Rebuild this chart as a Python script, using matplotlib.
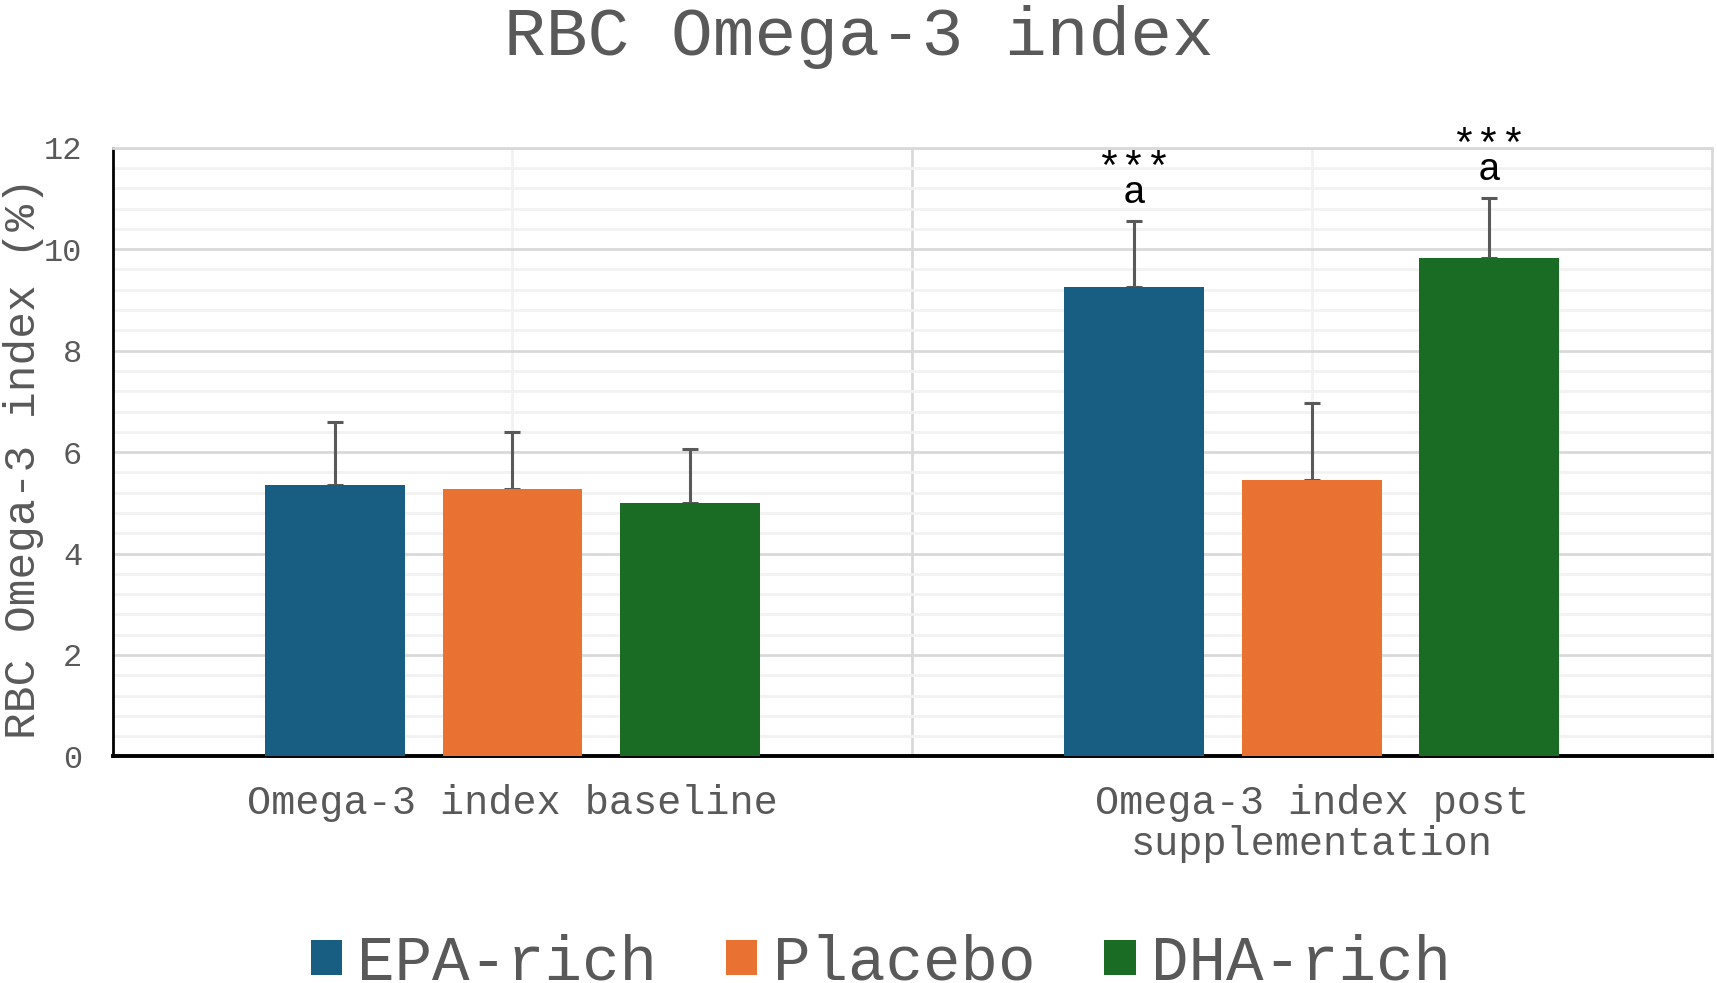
import numpy as np
import matplotlib
matplotlib.use("Agg")
import matplotlib.pyplot as plt
from matplotlib.patches import Patch
from matplotlib.ticker import MultipleLocator, FixedLocator

# Data
timepoints = ["Omega-3 index baseline", "Omega-3 index post\nsupplementation"]
groups = ["EPA-rich", "Placebo", "DHA-rich"]
means = {
    "EPA-rich": [5.35, 9.26],
    "Placebo": [5.27, 5.44],
    "DHA-rich": [4.99, 9.82],
}
sd = {
    "EPA-rich": [1.25, 1.29],
    "Placebo": [1.12, 1.53],
    "DHA-rich": [1.08, 1.18],
}
# significance marks shown above the post-supplementation bars
marks = {
    "EPA-rich": [None, ("***", "a")],
    "Placebo": [None, None],
    "DHA-rich": [None, ("***", "a")],
}

colors = {"EPA-rich": "#175E82", "Placebo": "#E97132", "DHA-rich": "#1A6B24"}
GREY = "#595959"
FONT = ["Liberation Mono", "DejaVu Sans Mono"]

plt.rcParams["font.family"] = FONT

fig = plt.figure(figsize=(17.17, 9.83), dpi=100)
ax = fig.add_axes([0.0657, 0.2305, 0.9311, 0.6192])

x = np.arange(len(timepoints))
width = 0.175
offsets = [-0.222, 0.0, 0.222]

for g, off in zip(groups, offsets):
    vals = np.array(means[g])
    err = np.array(sd[g])
    ax.bar(x + off, vals, width, color=colors[g], zorder=3)
    # one-sided (upper) error bars, drawn just under the bars
    ax.errorbar(x + off, vals, yerr=[np.zeros_like(err), err], fmt="none",
                ecolor=GREY, elinewidth=2.2, capsize=6, capthick=2.2, zorder=2.9)
    for i, m in enumerate(marks[g]):
        if m is None:
            continue
        top = vals[i] + err[i]
        ax.text(x[i] + off, top + 0.8, m[0], ha="center", va="baseline",
                fontsize=30, color="black", zorder=5)
        ax.text(x[i] + off, top + 0.36, m[1], ha="center", va="baseline",
                fontsize=28, color="black", zorder=5)

ax.set_xlim(-0.5, 1.5)
ax.set_ylim(0, 12)
ax.yaxis.set_major_locator(MultipleLocator(2))
ax.yaxis.set_minor_locator(MultipleLocator(0.4))
ax.set_xticks(x)
ax.set_xticklabels(timepoints, fontsize=29, color=GREY, linespacing=1.1)
ax.xaxis.set_minor_locator(FixedLocator([0.5]))
ax.tick_params(axis="both", which="both", length=0)
ax.tick_params(axis="y", labelsize=23, labelcolor=GREY, pad=22)
ax.tick_params(axis="x", pad=20)

ax.set_axisbelow(True)
ax.yaxis.grid(True, which="major", color="#d9d9d9", linewidth=2)
ax.yaxis.grid(True, which="minor", color="#f2f2f2", linewidth=2)
ax.xaxis.grid(True, which="major", color="#f2f2f2", linewidth=2)
ax.xaxis.grid(True, which="minor", color="#d9d9d9", linewidth=2)

ax.spines["left"].set_color("black")
ax.spines["left"].set_linewidth(2)
ax.spines["bottom"].set_color("black")
ax.spines["bottom"].set_linewidth(2.8)
ax.spines["top"].set_color("#d9d9d9")
ax.spines["top"].set_linewidth(2)
ax.spines["right"].set_color("#d9d9d9")
ax.spines["right"].set_linewidth(2)

ax.set_ylabel("RBC Omega-3 index (%)", fontsize=32, color=GREY)
ax.yaxis.set_label_coords(-0.043, 0.49)

fig.suptitle("RBC Omega-3 index", fontsize=50, color=GREY, y=0.995, va="top")

handles = [Patch(facecolor=colors[g], edgecolor="none") for g in groups]
leg = fig.legend(handles, groups, loc="center", bbox_to_anchor=(0.513, 0.02),
                 ncol=3, frameon=False, fontsize=45, handlelength=0.5,
                 handleheight=0.5, handletextpad=0.25, columnspacing=1.1)
for t in leg.get_texts():
    t.set_color(GREY)

fig.savefig("out.png", dpi=100)
